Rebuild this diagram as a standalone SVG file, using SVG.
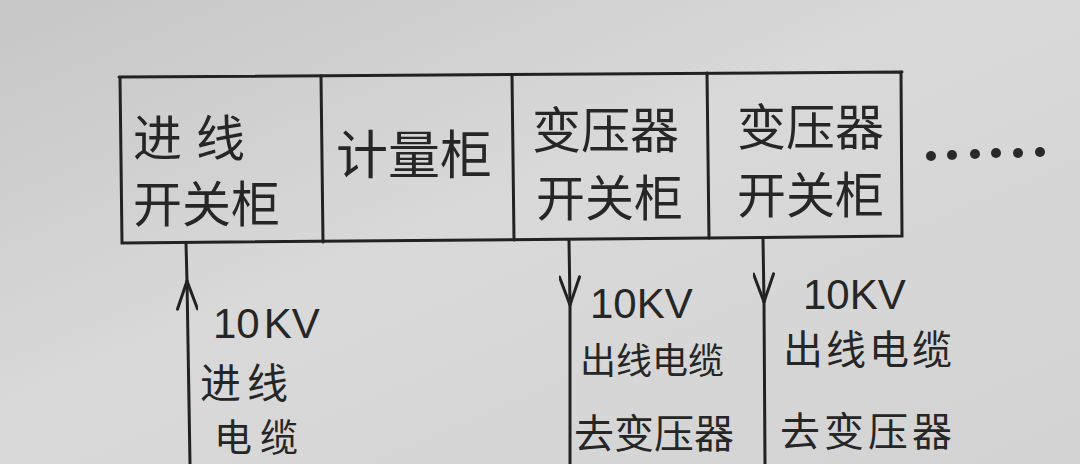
<svg xmlns="http://www.w3.org/2000/svg" width="1080" height="464" viewBox="0 0 1080 464">
<defs>
<linearGradient id="paper" x1="0" y1="0" x2="1" y2="1">
<stop offset="0" stop-color="#c6c6c6"/>
<stop offset="0.45" stop-color="#d9d9d9"/>
<stop offset="1" stop-color="#d3d3d3"/>
</linearGradient>
<marker id="arr" viewBox="0 0 32 22" refX="30" refY="11" markerWidth="32" markerHeight="22" markerUnits="userSpaceOnUse" orient="auto">
<path d="M2,1 L30,11 L2,21" fill="none" stroke="#222" stroke-width="3" stroke-linecap="round" stroke-linejoin="round"/>
</marker>
<style>
.ln{stroke:#222;stroke-width:3;fill:none;stroke-linecap:round}
.cn{font-family:"Noto Sans CJK SC","Noto Sans CJK JP",sans-serif;fill:#262626;font-weight:400}
.big{font-size:49px}
.mid{font-size:40px}
.num{font-family:"Liberation Sans","DejaVu Sans",sans-serif;font-size:42px;fill:#262626}
.dot{fill:#2a2a2a}
</style>
</defs>
<rect width="1080" height="464" fill="url(#paper)"/>

<g id="cabinet-row">
<path class="ln" d="M119,77 L902,72 M120,77 L122,243 L707,238 L902,236 L901,72"/>
</g>

<g id="node-jinxian">
<path class="ln" d="M321,76 L323,242"/>
<text class="cn big" x="133" y="156">进<tspan dx="14">线</tspan></text>
<text class="cn big" x="133" y="222">开关柜</text>
</g>

<g id="node-jiliang">
<path class="ln" d="M512,75 L514,240"/>
<text class="cn" font-size="52" x="336" y="174">计量柜</text>
</g>

<g id="node-byq1">
<path class="ln" d="M707,73 L709,238"/>
<text class="cn big" x="532" y="148">变压器</text>
<text class="cn big" x="536" y="216">开关柜</text>
</g>

<g id="node-byq2">
<text class="cn big" x="737" y="145">变压器</text>
<text class="cn big" x="737" y="213">开关柜</text>
</g>

<g id="more">
<circle class="dot" cx="931" cy="156" r="5"/>
<circle class="dot" cx="952" cy="155" r="5"/>
<circle class="dot" cx="975" cy="154" r="5"/>
<circle class="dot" cx="996" cy="153" r="5"/>
<circle class="dot" cx="1018" cy="153" r="5"/>
<circle class="dot" cx="1040" cy="152" r="5"/>
</g>

<g id="connectors">
<path class="ln" d="M187,281 L186,243"/>
<path class="ln" d="M190,464 L187,281" marker-end="url(#arr)"/>
<path class="ln" d="M569,240 L570,305" marker-end="url(#arr)"/>
<path class="ln" d="M570,305 L570,464"/>
<path class="ln" d="M763,238 L764,302" marker-end="url(#arr)"/>
<path class="ln" d="M764,302 L765,464"/>
</g>

<g id="label-in">
<text class="num" x="213" y="338">10<tspan dx="4">KV</tspan></text>
<text class="cn" font-size="41" x="200" y="398" letter-spacing="6">进线</text>
<text class="cn" font-size="38" x="214" y="451" letter-spacing="8">电缆</text>
</g>

<g id="label-out1">
<text class="num" x="590" y="318">10KV</text>
<text class="cn" x="580" y="374" font-size="36">出线电缆</text>
<text class="cn mid" x="574" y="448">去变压器</text>
</g>

<g id="label-out2">
<text class="num" x="803" y="309">10KV</text>
<text class="cn mid" x="783" y="364" letter-spacing="3">出线电缆</text>
<text class="cn mid" x="780" y="446" letter-spacing="4">去变压器</text>
</g>
</svg>
